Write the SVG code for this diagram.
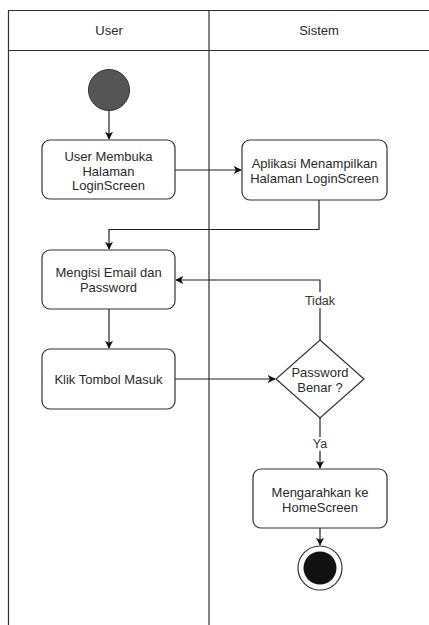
<svg xmlns="http://www.w3.org/2000/svg" width="429" height="625" viewBox="0 0 429 625">
  <defs>
    <style>
      .lane { fill: none; stroke: #333; stroke-width: 1.2; }
      .box { fill: #fff; stroke: #333; stroke-width: 1.2; }
      .edge { fill: none; stroke: #222; stroke-width: 1.2; }
      .txt { font-family: "Liberation Sans", Arial, sans-serif; font-size: 13px; fill: #2a2a2a; text-anchor: middle; }
      .lbl { font-family: "Liberation Sans", Arial, sans-serif; font-size: 12.5px; fill: #333; text-anchor: middle; }
    </style>
    <marker id="arrow" viewBox="0 0 10 10" refX="9" refY="5" markerWidth="8" markerHeight="8" markerUnits="userSpaceOnUse" orient="auto">
      <path d="M0,0 L10,5 L0,10 L2.5,5 z" fill="#111"/>
    </marker>
  </defs>
  <rect width="429" height="625" fill="#fff"/>

  <!-- swimlanes -->
  <g id="lanes">
    <path class="lane" d="M8.5,630 V10.5 H440 M8.5,50.5 H440 M209,10.5 V630"/>
    <text class="txt" x="109" y="35">User</text>
    <text class="txt" x="319" y="35">Sistem</text>
  </g>

  <!-- connectors -->
  <g id="edges">
    <path class="edge" d="M109,111 V139" marker-end="url(#arrow)"/>
    <path class="edge" d="M175,170 H241" marker-end="url(#arrow)"/>
    <path class="edge" d="M319,200 V229.5 H109 V249" marker-end="url(#arrow)"/>
    <path class="edge" d="M109,309 V348" marker-end="url(#arrow)"/>
    <path class="edge" d="M175,379 H275" marker-end="url(#arrow)"/>
    <path class="edge" d="M320,340 V280 H176" marker-end="url(#arrow)"/>
    <path class="edge" d="M320,418 V468" marker-end="url(#arrow)"/>
    <path class="edge" d="M320,528 V545" marker-end="url(#arrow)"/>
    <rect x="302" y="292" width="36" height="16" fill="#fff"/>
    <text class="lbl" x="320" y="305">Tidak</text>
    <rect x="310" y="437" width="20" height="14" fill="#fff"/>
    <text class="lbl" x="320" y="448">Ya</text>
  </g>

  <g id="start">
    <circle cx="109" cy="90" r="20.5" fill="#555" stroke="#333" stroke-width="1"/>
  </g>

  <g id="buka-login">
    <rect class="box" x="42" y="140" width="133" height="59" rx="8"/>
    <text class="txt" x="108.5" y="161">User Membuka</text>
    <text class="txt" x="108.5" y="175.5">Halaman</text>
    <text class="txt" x="108.5" y="190">LoginScreen</text>
  </g>

  <g id="tampil-login">
    <rect class="box" x="242" y="140" width="145" height="60" rx="8"/>
    <text class="txt" x="314.5" y="168">Aplikasi Menampilkan</text>
    <text class="txt" x="314.5" y="183">Halaman LoginScreen</text>
  </g>

  <g id="isi-data">
    <rect class="box" x="42" y="250" width="133" height="59" rx="8"/>
    <text class="txt" x="108.5" y="277">Mengisi Email dan</text>
    <text class="txt" x="108.5" y="292">Password</text>
  </g>

  <g id="klik-masuk">
    <rect class="box" x="42" y="349" width="133" height="60" rx="8"/>
    <text class="txt" x="108.5" y="383.5">Klik Tombol Masuk</text>
  </g>

  <g id="cek-password">
    <path class="box" d="M320,340 L364,379 L320,418 L276,379 z"/>
    <text class="txt" x="320" y="377">Password</text>
    <text class="txt" x="320" y="392">Benar ?</text>
  </g>

  <g id="ke-home">
    <rect class="box" x="253" y="469" width="134" height="59" rx="8"/>
    <text class="txt" x="320" y="497">Mengarahkan ke</text>
    <text class="txt" x="320" y="512">HomeScreen</text>
  </g>

  <g id="end">
    <circle cx="320" cy="568" r="22" fill="#fff" stroke="#333" stroke-width="1.2"/>
    <circle cx="320" cy="568" r="16.5" fill="#111"/>
  </g>
</svg>
